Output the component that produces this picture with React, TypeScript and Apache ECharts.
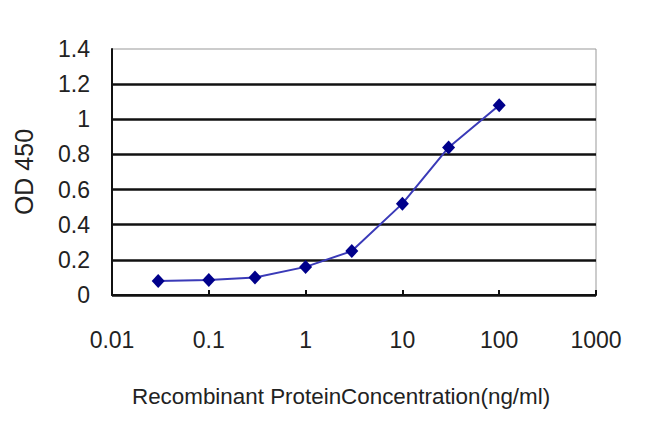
import React, { useEffect, useRef } from "react";
import * as echarts from "echarts";

const concentrations = [0.03, 0.1, 0.3, 1, 3, 10, 30, 100];
const odValues = [0.08, 0.085, 0.1, 0.16, 0.25, 0.52, 0.84, 1.08];
const yTicks = [0, 0.2, 0.4, 0.6, 0.8, 1, 1.2, 1.4];
const xTitle = "Recombinant ProteinConcentration(ng/ml)";
const yTitle = "OD 450";

export default function App() {
  const ref = useRef<HTMLDivElement>(null);
  useEffect(() => {
    if (!ref.current) return;
    const chart = echarts.init(ref.current, null, { renderer: "svg" });
    const font = "Arial, 'Liberation Sans', sans-serif";
    chart.setOption({
      animation: false,
      backgroundColor: "#fff",
      grid: {
        left: 112,
        right: 54,
        top: 49,
        bottom: 138,
        show: true,
        borderColor: "#999",
        borderWidth: 1,
        backgroundColor: "transparent",
      },
      graphic: [
        {
          type: "text",
          left: 341 - 209,
          top: 385,
          style: {
            text: xTitle,
            fontFamily: font,
            fontSize: 22.4,
            fill: "#222",
          },
        },
      ],
      xAxis: {
        type: "log",
        logBase: 10,
        min: 0.01,
        max: 1000,
        axisLine: { show: true, lineStyle: { color: "#111", width: 2 } },
        axisTick: { show: true, inside: true, length: 5, lineStyle: { color: "#111", width: 2 } },
        axisLabel: {
          fontFamily: font,
          fontSize: 23,
          color: "#222",
          margin: 33,
          formatter: (v: number) => String(v),
        },
        splitLine: { show: false },
      },
      yAxis: {
        type: "value",
        min: 0,
        max: 1.4,
        interval: 0.2,
        name: yTitle,
        nameLocation: "middle",
        nameGap: 76,
        nameRotate: 90,
        nameTextStyle: { fontFamily: font, fontSize: 25, color: "#222" },
        axisLine: { show: true, lineStyle: { color: "#111", width: 2 } },
        axisTick: { show: false },
        axisLabel: {
          fontFamily: font,
          fontSize: 23,
          color: "#222",
          margin: 22,
          formatter: (v: number) => {
            const t = yTicks.find((y) => Math.abs(y - v) < 1e-6);
            return t === undefined ? "" : String(t);
          },
        },
        splitLine: {
          show: true,
          lineStyle: {
            color: ["#111", "#111", "#111", "#111", "#111", "#111", "#111", "transparent"],
            width: 2.5,
          },
        },
      },
      series: [
        {
          type: "line",
          data: concentrations.map((c, i) => [c, odValues[i]]),
          lineStyle: { color: "#3a3ab8", width: 2 },
          symbol: "diamond",
          symbolSize: [13, 14],
          itemStyle: { color: "#00008b" },
        },
      ],
    });
    return () => chart.dispose();
  }, []);
  return <div ref={ref} style={{ width: 650, height: 433, position: "absolute", left: 0, top: 0 }} />;
}
